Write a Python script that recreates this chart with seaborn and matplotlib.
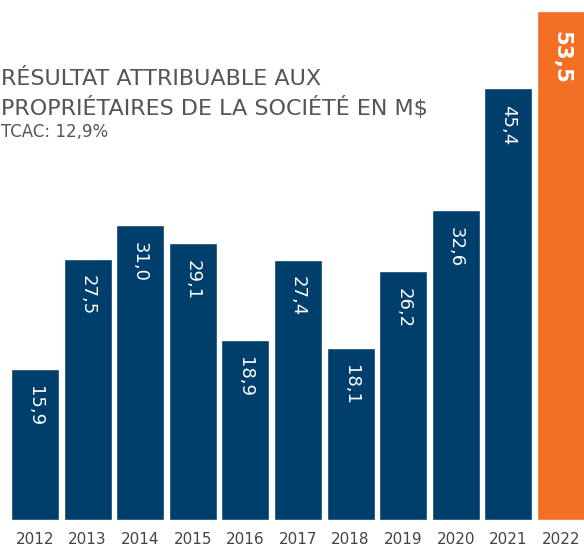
import numpy as np
import pandas as pd
import matplotlib
matplotlib.use("Agg")
import matplotlib.pyplot as plt
import seaborn as sns

sns.set_style("white")
plt.rcParams['font.family'] = ['DejaVu Sans']

years = ['2012', '2013', '2014', '2015', '2016', '2017', '2018', '2019', '2020', '2021', '2022']
values = [15.9, 27.5, 31.0, 29.1, 18.9, 27.4, 18.1, 26.2, 32.6, 45.4, 53.5]
labels = ['15,9', '27,5', '31,0', '29,1', '18,9', '27,4', '18,1', '26,2', '32,6', '45,4', '53,5']

navy = '#003f6b'
orange = '#f26f24'
grey = '#555555'

data = pd.DataFrame({'year': years, 'value': values})
palette = [navy] * 10 + [orange]

fig = plt.figure(figsize=(5.84, 5.46), dpi=100)
ax = fig.add_axes([0, 26 / 546, 1, 520 / 546])
sns.barplot(data=data, x='year', y='value', hue='year', palette=palette,
            width=0.91, saturation=1, legend=False, ax=ax)

ax.set_xlim(-0.665, 10.437)
ax.set_ylim(0, 54.7)
ax.set_xlabel('')
ax.set_ylabel('')
ax.set_yticks([])
ax.tick_params(axis='x', length=0, pad=9, labelsize=11, labelcolor='#444444')
sns.despine(ax=ax, left=True, bottom=True)

for i, (v, lab) in enumerate(zip(values, labels)):
    last = i == len(values) - 1
    ax.annotate(lab, (i, v), xytext=(0, -12 if not last else -14), textcoords='offset points',
                ha='center', va='top', rotation=-90, color='white',
                fontsize=15.5 if last else 13, fontweight='bold' if last else 'normal')

# title block, starts right at the left edge
fig.text(0.001, 0.855, 'RÉSULTAT ATTRIBUABLE AUX', fontsize=16, color=grey, va='center', ha='left')
fig.text(0.001, 0.803, 'PROPRIÉTAIRES DE LA SOCIÉTÉ EN M$', fontsize=16, color=grey, va='center', ha='left')
fig.text(0.001, 0.758, 'TCAC: 12,9%', fontsize=12, color=grey, va='center', ha='left')

fig.savefig('out.png', dpi=100)
